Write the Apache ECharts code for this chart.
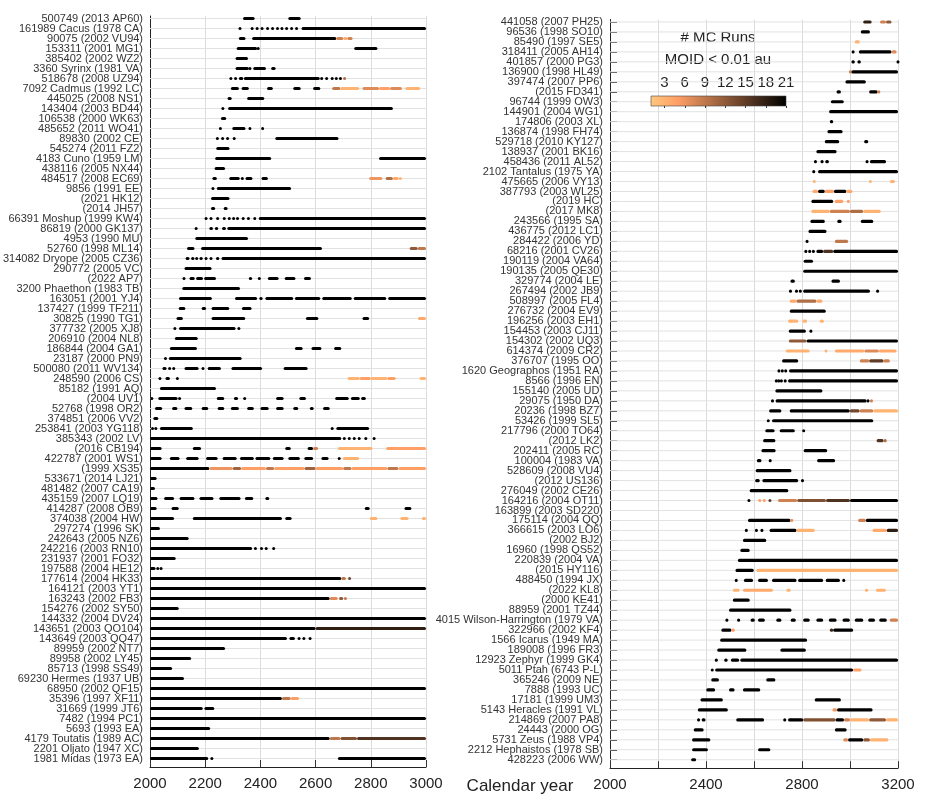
<!DOCTYPE html>
<html><head><meta charset="utf-8">
<script src="https://cdn.jsdelivr.net/npm/echarts@6/dist/echarts.min.js"></script>
<style>html,body{margin:0;padding:0;background:#fff}#c{width:948px;height:800px}</style>
</head><body><div id="c"></div>
<script>
// ---------- DATA ----------
const leftNames = [
"500749 (2013 AP60)","161989 Cacus (1978 CA)","90075 (2002 VU94)","153311 (2001 MG1)","385402 (2002 WZ2)",
"3360 Syrinx (1981 VA)","518678 (2008 UZ94)","7092 Cadmus (1992 LC)","445025 (2008 NS1)","143404 (2003 BD44)",
"106538 (2000 WK63)","485652 (2011 WO41)","89830 (2002 CE)","545274 (2011 FZ2)","4183 Cuno (1959 LM)",
"438116 (2005 NX44)","484517 (2008 EC69)","9856 (1991 EE)","(2021 HK12)","(2014 JH57)",
"66391 Moshup (1999 KW4)","86819 (2000 GK137)","4953 (1990 MU)","52760 (1998 ML14)","314082 Dryope (2005 CZ36)",
"290772 (2005 VC)","(2022 AP7)","3200 Phaethon (1983 TB)","163051 (2001 YJ4)","137427 (1999 TF211)",
"30825 (1990 TG1)","377732 (2005 XJ8)","206910 (2004 NL8)","186844 (2004 GA1)","23187 (2000 PN9)",
"500080 (2011 WV134)","248590 (2006 CS)","85182 (1991 AQ)","(2004 UV1)","52768 (1998 OR2)",
"374851 (2006 VV2)","253841 (2003 YG118)","385343 (2002 LV)","(2016 CB194)","422787 (2001 WS1)",
"(1999 XS35)","533671 (2014 LJ21)","481482 (2007 CA19)","435159 (2007 LQ19)","414287 (2008 OB9)",
"374038 (2004 HW)","297274 (1996 SK)","242643 (2005 NZ6)","242216 (2003 RN10)","231937 (2001 FO32)",
"197588 (2004 HE12)","177614 (2004 HK33)","164121 (2003 YT1)","163243 (2002 FB3)","154276 (2002 SY50)",
"144332 (2004 DV24)","143651 (2003 QO104)","143649 (2003 QQ47)","89959 (2002 NT7)","89958 (2002 LY45)",
"85713 (1998 SS49)","69230 Hermes (1937 UB)","68950 (2002 QF15)","35396 (1997 XF11)","31669 (1999 JT6)",
"7482 (1994 PC1)","5693 (1993 EA)","4179 Toutatis (1989 AC)","2201 Oljato (1947 XC)","1981 Midas (1973 EA)"];

// each segment: [startYear, endYear, #MC runs (default 21)]
const leftSegs = [
[[2337,2379],[2501,2546]],
[[2326,2326],[2370,2370],[2388,2388],[2406,2406],[2426,2426],[2444,2444],[2462,2462],[2478,2478],[2495,2495],[2513,2513],[2531,2531],[2549,3000]],
[[2322,2346],[2370,2675],[2675,2700,8],[2700,2715,4],[2715,2734,8]],
[[2314,2388],[2392,2392],[2740,2824]],
[[2310,2355]],
[[2310,2358],[2362,2362],[2374,2420],[2439,2455]],
[[2293,2293],[2310,2310],[2322,2338],[2340,2615],[2622,2622],[2635,2645],[2660,2660],[2675,2675],[2690,2690],[2705,2705,10]],
[[2293,2322],[2332,2358],[2424,2445],[2519,2546],[2591,2617],[2660,2690,9],[2690,2758,3],[2770,2830,7],[2830,2870,5],[2870,2913,7],[2925,2979,3]],
[[2281,2296],[2352,2414]],
[[2264,2264],[2283,2880]],
[[2257,2276]],
[[2251,2259],[2298,2346],[2362,2362],[2408,2408]],
[[2244,2244],[2263,2263],[2281,2281],[2305,2305],[2454,2683]],
[[2240,2288]],
[[2236,2439],[2830,3000]],
[[2234,2272]],
[[2226,2242],[2287,2325],[2332,2337],[2346,2371],[2404,2427],[2794,2842,6],[2854,2880,10],[2880,2901,4],[2907,2907,3]],
[[2228,2228],[2242,2511]],
[[2221,2288]],
[[2221,2236],[2267,2281]],
[[2203,2203],[2221,2221],[2245,2245],[2269,2269],[2287,2287],[2303,2303],[2317,2317],[2335,2340],[2353,2360],[2376,2383],[2394,3000]],
[[2167,2167],[2215,2228],[2235,2247],[2261,2275],[2280,3000]],
[[2164,2355]],
[[2134,2161],[2185,2623],[2941,2970,12],[2970,3000,9]],
[[2129,2143],[2149,2161],[2165,2173],[2179,2191],[2203,2203],[2221,2221],[2239,2251],[2259,3000]],
[[2125,2223]],
[[2123,2123],[2143,2162],[2167,2192],[2196,2239],[2358,2370],[2396,2396],[2427,2466],[2488,2527],[2558,2583]],
[[2117,2326]],
[[2105,2224],[2308,2388],[2396,2408],[2418,2519],[2525,2617],[2624,2731],[2738,2856],[2863,3000]],
[[2104,2128],[2187,2203],[2223,2287],[2333,2368]],
[[2096,2119],[2223,2345],[2565,2610],[2770,2794],[2971,3000,4]],
[[2090,2090],[2105,2310],[2322,2322]],
[[2090,2173]],
[[2072,2170],[2525,2553],[2585,2621],[2667,2693]],
[[2056,2056],[2068,2332]],
[[2045,2060],[2066,2076],[2082,2090],[2125,2176],[2192,2192],[2209,2257],[2295,2406],[2484,2571]],
[[2036,2036],[2056,2072],[2099,2099],[2716,2760,3],[2760,2800,5],[2800,2860,3],[2860,2890,5],[2977,3000,3]],
[[2036,2239]],
[[2003,2010],[2030,2100],[2107,2107],[2242,2269],[2304,2319],[2343,2343],[2457,2484],[2541,2565],[2671,2720],[2728,2760],[2765,2782]],
[[2018,2044],[2080,2099],[2125,2153],[2187,2211],[2245,2269],[2293,2322],[2352,2376],[2400,2430],[2457,2484],[2519,2537],[2579,2593],[2627,2651]],
[[2012,2030]],
[[2006,2012],[2018,2024],[2036,2155],[2660,2660],[2675,2794]],
[[2000,2693],[2704,2704],[2722,2722],[2740,2740],[2758,2758],[2782,2782],[2812,2812]],
[[2000,2042],[2155,2185],[2490,2510],[2571,2591],[2591,2609,8],[2681,2806,3],[2856,3000,5]],
[[2000,2042],[2072,2107],[2131,2176],[2203,2245],[2263,2314],[2326,2376],[2382,2436],[2445,2484],[2501,2543],[2559,2591],[2621,2647],[2681,2690],[2699,2758,3]],
[[2000,2215],[2215,2300,6],[2300,2330,11],[2330,2420,5],[2420,2450,9],[2450,2560,5],[2560,2600,11],[2600,2700,5],[2700,2730,9],[2730,2860,5],[2860,2900,9],[2900,3000,5]],
[[2000,2024]],
[[2000,2018]],
[[2000,2027],[2051,2087],[2107,2161],[2179,2230],[2251,2328],[2344,2374],[2418,2432]],
[[2000,2024],[2078,2104],[2778,2796],[2922,2947]],
[[2000,2087],[2155,2478],[2490,2513],[2796,2824,3],[2907,2937,3],[2985,3000,3]],
[[2000,2036]],
[[2000,2140]],
[[2000,2370],[2382,2382],[2404,2404],[2421,2421],[2448,2448]],
[[2000,2093]],
[[2000,2020],[2026,2030],[2040,2040]],
[[2000,2693],[2693,2710,9],[2718,2728,14]],
[[2000,3000]],
[[2000,2651],[2651,2680,7],[2685,2700,12],[2708,2708,9]],
[[2000,2104]],
[[2000,3000]],
[[2000,2600],[2600,3000,18]],
[[2000,2496],[2505,2525],[2535,2545],[2555,2560],[2580,2580]],
[[2000,2272]],
[[2000,2149]],
[[2000,2080]],
[[2000,2123]],
[[2000,3000]],
[[2000,2478],[2478,2510,9],[2510,2540,5]],
[[2000,2191],[2197,2233]],
[[2000,3000]],
[[2000,2218]],
[[2000,2651],[2651,2690,9],[2690,2750,13],[2750,3000,16]],
[[2000,2177]],
[[2000,2211],[2224,2224],[2681,3000]]
];

const rightNames = [
"441058 (2007 PH25)","96536 (1998 SO10)","85490 (1997 SE5)","318411 (2005 AH14)","401857 (2000 PG3)",
"136900 (1998 HL49)","397474 (2007 PP6)","(2015 FD341)","96744 (1999 OW3)","144901 (2004 WG1)",
"174806 (2003 XL)","136874 (1998 FH74)","529718 (2010 KY127)","138937 (2001 BK16)","458436 (2011 AL52)",
"2102 Tantalus (1975 YA)","475665 (2006 VY13)","387793 (2003 WL25)","(2019 HC)","(2017 MK8)",
"243566 (1995 SA)","436775 (2012 LC1)","284422 (2006 YD)","68216 (2001 CV26)","190119 (2004 VA64)",
"190135 (2005 QE30)","329774 (2004 LE)","267494 (2002 JB9)","508997 (2005 FL4)","276732 (2004 EV9)",
"196256 (2003 EH1)","154453 (2003 CJ11)","154302 (2002 UQ3)","614374 (2009 CR2)","376707 (1995 OO)",
"1620 Geographos (1951 RA)","8566 (1996 EN)","155140 (2005 UD)","29075 (1950 DA)","20236 (1998 BZ7)",
"53426 (1999 SL5)","217796 (2000 TO64)","(2012 LK2)","202411 (2005 RC)","100004 (1983 VA)",
"528609 (2008 VU4)","(2012 US136)","276049 (2002 CE26)","164216 (2004 OT11)","163899 (2003 SD220)",
"175114 (2004 QQ)","366615 (2003 LO6)","(2002 BJ2)","16960 (1998 QS52)","220839 (2004 VA)",
"(2015 HY116)","488450 (1994 JX)","(2022 KL8)","(2000 KE41)","88959 (2001 TZ44)",
"4015 Wilson-Harrington (1979 VA)","322966 (2002 KF4)","1566 Icarus (1949 MA)","189008 (1996 FR3)","12923 Zephyr (1999 GK4)",
"5011 Ptah (6743 P-L)","365246 (2009 NE)","7888 (1993 UC)","17181 (1999 UM3)","5143 Heracles (1991 VL)",
"214869 (2007 PA8)","24443 (2000 OG)","5731 Zeus (1988 VP4)","2212 Hephaistos (1978 SB)","428223 (2006 WW)"];

const rightSegs = [
[[3055,3090,18],[3125,3150,8],[3150,3173,12]],
[[3045,3083]],
[[3020,3041,3]],
[[3013,3013],[3037,3173],[3173,3194,7]],
[[3006,3020],[3031,3045],[3200,3200]],
[[2997,3006,8],[3006,3200]],
[[2981,3066]],
[[2944,2962],[3080,3115],[3115,3125,8]],
[[2920,2974]],
[[2913,3200]],
[[2916,2930]],
[[2906,2969]],
[[2895,2955],[3059,3076]],
[[2860,2944]],
[[2856,2856],[2877,2890],[2897,2912],[3066,3076],[3083,3150]],
[[2849,2849],[2867,3200]],
[[2846,2856,3],[3080,3090,3],[3166,3187,3]],
[[2844,2867,4],[2867,2895],[2895,2933,5],[2933,2985],[2985,3010,4]],
[[2839,2930],[2937,2972,5],[2993,2993,5]],
[[2839,2916,3],[2916,3000,8],[3000,3055,10],[3055,3128,3]],
[[2835,2895],[2947,2965],[3045,3097]],
[[2827,2902]],
[[2821,2821],[2937,2992,9]],
[[2816,2816],[2832,2832],[2845,2850],[2860,2888],[2888,2930,16],[2930,3200]],
[[2807,2846]],
[[2805,3200]],
[[2752,2770],[2923,2958]],
[[2752,2752],[2777,2777],[2793,2793],[2805,3083],[3115,3115]],
[[2749,2777,4],[2777,2860,10],[2860,2885,4]],
[[2749,2899]],
[[2742,2784,3],[2802,2821,3],[2874,2891,3]],
[[2745,2816],[2837,2837]],
[[2745,2819,12],[2819,3200]],
[[2732,2832,3],[2895,2905,3],[2937,3060,4],[3060,3120,7],[3120,3194,4]],
[[2717,2784],[3041,3080,8],[3080,3140,15],[3140,3166,8]],
[[2704,2704],[2718,2718],[2732,2732],[2746,3200]],
[[2693,2693],[2703,2703],[2714,2714],[2725,2735],[2742,3200]],
[[2689,2885]],
[[2677,2677],[2690,3069],[3075,3075],[3085,3094,8]],
[[2663,2714],[2749,2999],[2999,3040,14],[3040,3097,8],[3097,3200,3]],
[[2654,2665],[2675,3097]],
[[2647,2686],[2707,2770],[2807,2807]],
[[2638,2689],[3111,3140,16],[3140,3153,10]],
[[2631,2690],[2807,2905]],
[[2612,2631],[2663,2672],[2863,2938]],
[[2607,2756]],
[[2605,2624],[2635,2784],[2802,2802]],
[[2582,2743]],
[[2579,2579],[2624,2624,5],[2640,2645,5],[2665,2668,15],[2700,2780,8],[2780,2900,13],[2900,3000,16],[3000,3200]],
[],
[[2575,2752],[2752,2763,6],[3034,3066,8],[3066,3200]],
[[2568,2568],[2610,2610],[2633,2633],[2665,2777],[2777,2853,3],[3094,3153,4],[3153,3200,18]],
[[2554,2651]],
[[2543,2582]],
[[2533,3200]],
[[2523,2599],[2610,3200,3]],
[[2526,2526],[2558,2596],[2617,2658],[2675,2777],[2784,2888],[2899,2958],[2974,2974]],
[[2512,2540,3],[2554,2679,4],[2735,2753,3],[3062,3076,3],[3108,3150,3]],
[[2512,2582]],
[[2496,2756]],
[[2487,2487],[2536,2536],[2586,2603],[2617,2645],[2693,2714],[2753,2774],[2805,2832],[2860,2888],[2912,2944],[2969,2999],[3020,3055],[3076,3104],[3122,3153],[3166,3200,8]],
[[2464,2506],[2506,2520,5],[2916,2930,17],[2930,3013]],
[[2459,2821]],
[[2447,2568],[2710,2816]],
[[2443,2443],[2476,2490],[2504,2538],[2543,3200]],
[[2426,2426],[2438,3013],[3013,3048,5]],
[[2422,2454],[2651,2689]],
[[2401,2438],[2496,2519],[2554,2626]],
[[2377,2470],[2853,2962]],
[[2366,2491],[2927,2946,6],[2946,3094]],
[[2363,2375],[2382,2398],[2526,2642],[2728,2728],[2742,2805],[2805,2940,13],[2940,2975],[2975,3000,8],[3000,3080,3],[3080,3150,12],[3150,3200,3]],
[[2349,2390],[2937,2986]],
[[2342,2418],[2972,2992,7],[2992,3055],[3055,3083,12],[3083,3160,3]],
[[2342,2408],[2617,2668]],
[[2338,2359]]
];

const leftXTicks = [2000, 2200, 2400, 2600, 2800, 3000];
const rightXLabels = [2000, 2400, 2800, 3200];
const colorbarTicks = [3, 6, 9, 12, 15, 18, 21];
const colorMin = 1, colorMax = 21;

// ---------- HELPERS ----------
const FONT = "'Liberation Sans', Arial, Helvetica, sans-serif";
const Y_MIN = 0.75, Y_MAX = 75.85;
function copperR(v) {
  const t = Math.min(1, Math.max(0, (v - colorMin) / (colorMax - colorMin)));
  const x = 1 - t;
  const r = Math.min(1, 1.25 * x), g = 0.7812 * x, b = 0.4975 * x;
  return 'rgb(' + Math.round(r * 255) + ',' + Math.round(g * 255) + ',' + Math.round(b * 255) + ')';
}
function flatten(segs) {
  const out = [];
  segs.forEach((row, i) => row.forEach(s => out.push([s[0], s[1], i + 1, s.length > 2 ? s[2] : 21])));
  return out;
}
function rowsOf(names) { return names.map((n, i) => i + 1); }

function renderSeg(params, api) {
  const s = api.coord([api.value(0), api.value(2)]);
  const e = api.coord([api.value(1), api.value(2)]);
  let x = s[0], w = e[0] - s[0];
  if (w < 3) { x = (s[0] + e[0]) / 2 - 1.5; w = 3; }
  return { type: 'rect', shape: { x: x, y: s[1] - 1.6, width: w, height: 3.2, r: 1.5 },
           style: { fill: copperR(api.value(3)) } };
}
function renderRowLine(params, api) {
  const cs = params.coordSys;
  const p = api.coord([2000, api.value(0)]);
  return { type: 'line', shape: { x1: cs.x, y1: p[1], x2: cs.x + cs.width, y2: p[1] },
           style: { stroke: '#e2e2e2', lineWidth: 1 } };
}
function renderColorbar(params, api) {
  const a = api.coord([colorMin, 0]);
  const b = api.coord([colorMax, 1]);
  const stops = [];
  for (let i = 0; i <= 20; i++) stops.push({ offset: i / 20, color: copperR(colorMin + (colorMax - colorMin) * i / 20) });
  return { type: 'rect', shape: { x: a[0], y: b[1], width: b[0] - a[0], height: a[1] - b[1] },
           style: { fill: new echarts.graphic.LinearGradient(0, 0, 1, 0, stops), stroke: '#444', lineWidth: 0.6 } };
}

function yAxisFor(names, gridIndex) {
  const rows = rowsOf(names);
  // two empty guard labels at the axis ends absorb ECharts' min/max overlap hiding
  const labelVals = [Y_MIN + 0.05].concat(rows, [Y_MAX - 0.05]);
  return {
    type: 'value', gridIndex: gridIndex, inverse: true, min: Y_MIN, max: Y_MAX,
    axisLine: { show: true, lineStyle: { color: '#222', width: 1 } },
    axisTick: { show: true, inside: true, length: 7, customValues: rows, lineStyle: { color: '#333' } },
    axisLabel: { customValues: labelVals,
                 formatter: v => (Math.abs(v - Math.round(v)) < 1e-6 ? (names[Math.round(v) - 1] || '') : ''),
                 fontSize: 11, color: '#333', fontFamily: FONT, margin: 7,
                 showMinLabel: false, showMaxLabel: false, hideOverlap: false },
    splitLine: { show: false }
  };
}
const yearFmt = v => String(v);

const chart = echarts.init(document.getElementById('c'), null, { renderer: 'canvas' });
chart.setOption({
  animation: false,
  backgroundColor: '#fff',
  textStyle: { fontFamily: FONT },
  grid: [
    { left: 147, top: 16, width: 279, height: 751 },
    { left: 610, top: 19.5, width: 288, height: 748.7 },
    { left: 651, top: 96, width: 135, height: 10 }
  ],
  xAxis: [
    { type: 'value', gridIndex: 0, min: 2000, max: 3000, interval: 200,
      axisLine: { show: true, lineStyle: { color: '#222' } },
      axisTick: { show: true, inside: true, length: 7, lineStyle: { color: '#333' } },
      axisLabel: { fontSize: 15, color: '#222', margin: 9, fontFamily: FONT, customValues: leftXTicks, formatter: yearFmt,
                   showMinLabel: true, showMaxLabel: true },
      splitLine: { show: true, lineStyle: { color: '#dcdcdc', width: 1 } } },
    { type: 'value', gridIndex: 1, min: 2000, max: 3200, interval: 200,
      axisLine: { show: true, lineStyle: { color: '#222' } },
      axisTick: { show: true, inside: true, length: 7, lineStyle: { color: '#333' } },
      axisLabel: { fontSize: 15, color: '#222', margin: 9, fontFamily: FONT, customValues: rightXLabels, formatter: yearFmt,
                   showMinLabel: true, showMaxLabel: true },
      splitLine: { show: true, lineStyle: { color: '#dcdcdc', width: 1 } } },
    { type: 'value', gridIndex: 2, min: colorMin, max: colorMax, position: 'top',
      axisLine: { show: false },
      axisTick: { show: true, inside: true, length: 2, customValues: colorbarTicks, lineStyle: { color: '#333' } },
      axisLabel: { fontSize: 15, color: '#222', margin: 6, fontFamily: FONT, customValues: colorbarTicks,
                   showMinLabel: true, showMaxLabel: true },
      splitLine: { show: false } }
  ],
  yAxis: [
    yAxisFor(leftNames, 0),
    yAxisFor(rightNames, 1),
    { type: 'value', gridIndex: 2, min: 0, max: 1, show: false }
  ],
  series: [
    { type: 'custom', xAxisIndex: 0, yAxisIndex: 0, z: 1, silent: true,
      data: rowsOf(leftNames).map(r => [r]), encode: { y: 0 }, renderItem: renderRowLine },
    { type: 'custom', xAxisIndex: 1, yAxisIndex: 1, z: 1, silent: true,
      data: rowsOf(rightNames).map(r => [r]), encode: { y: 0 }, renderItem: renderRowLine },
    { type: 'custom', xAxisIndex: 0, yAxisIndex: 0, z: 3, clip: false,
      data: flatten(leftSegs), encode: { x: [0, 1], y: 2 }, renderItem: renderSeg },
    { type: 'custom', xAxisIndex: 1, yAxisIndex: 1, z: 3, clip: false,
      data: flatten(rightSegs), encode: { x: [0, 1], y: 2 }, renderItem: renderSeg },
    { type: 'custom', xAxisIndex: 2, yAxisIndex: 2, z: 4,
      data: [[colorMin, 0], [colorMax, 1]], encode: { x: 0, y: 1 }, renderItem: (p, api) => p.dataIndex === 0 ? renderColorbar(p, api) : null }
  ],
  graphic: [
    { type: 'text', x: 718, y: 38, style: { text: '# MC Runs', font: '15px ' + FONT, fill: '#222', align: 'center', verticalAlign: 'middle' } },
    { type: 'text', x: 718, y: 60, style: { text: 'MOID < 0.01 au', font: '15px ' + FONT, fill: '#222', align: 'center', verticalAlign: 'middle' } },
    { type: 'text', x: 520, y: 786, style: { text: 'Calendar year', font: '17px ' + FONT, fill: '#222', align: 'center', verticalAlign: 'middle' } }
  ]
});
</script>
</body></html>
